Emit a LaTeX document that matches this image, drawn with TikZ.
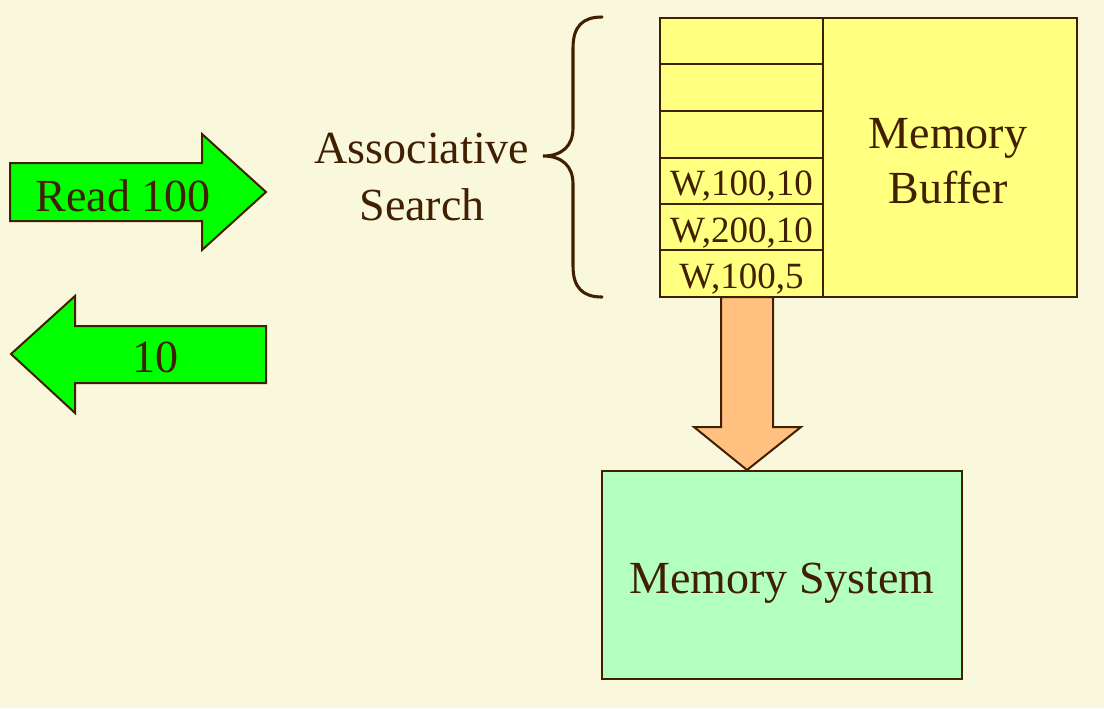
\documentclass[tikz,border=0pt]{standalone}
\usepackage{fontspec}
\setmainfont{Liberation Serif}
\definecolor{bgc}{RGB}{250,248,220}
\definecolor{ink}{RGB}{64,32,0}
\definecolor{grn}{RGB}{0,255,0}
\definecolor{ylw}{RGB}{255,255,128}
\definecolor{org}{RGB}{255,192,128}
\definecolor{lgrn}{RGB}{179,255,192}
\tikzset{
  big/.style={font=\fontsize{34.5}{41}\selectfont, text=ink, inner sep=0pt},
  small/.style={font=\fontsize{27.75}{33}\selectfont, text=ink, inner sep=0pt},
  shp/.style={draw=ink, line width=1.5pt, line join=miter},
  cell/.style={shp, fill=ylw, rectangle, anchor=north west, inner sep=0pt, outer sep=0pt,
    minimum width=163*0.75pt, minimum height=#1*0.75pt},
}
\begin{document}
\begin{tikzpicture}[x=0.75pt,y=-0.75pt]
\fill[bgc] (0,0) rectangle (1104,708);
\useasboundingbox (0,0) rectangle (1104,708);

% green arrows
\draw[shp, fill=grn] (10,163) -- (202,163) -- (202,134) -- (266,192) -- (202,250) -- (202,221) -- (10,221) -- cycle;
\node[big, anchor=base] (read) at (123,211) {Read 100};
\draw[shp, fill=grn] (266,326) -- (75,326) -- (75,296) -- (11,354) -- (75,413) -- (75,383) -- (266,383) -- cycle;
\node[big, anchor=base] (ten) at (155,372) {10};

% associative search
\node[big, anchor=base] (assoc) at (422,163) {Associative};
\node[big, anchor=base] (search) at (422,220) {Search};

% brace
\draw[ink, line width=2.3pt, line cap=round]
  (602,17) .. controls (583,17) and (573,26) .. (573,48) -- (573,128)
  .. controls (573,146) and (562,156) .. (543,156)
  .. controls (562,156) and (573,166) .. (573,184) -- (573,266)
  .. controls (573,288) and (583,297) .. (602,297);

% orange arrow
\draw[shp, fill=org] (721,297) -- (721,427) -- (694,427) -- (747,470) -- (801,427) -- (773,427) -- (773,297) -- cycle;

% memory buffer
\node[cell=46] (c1) at (660,18) {};
\node[cell=47] (c2) at (660,64) {};
\node[cell=47] (c3) at (660,111) {};
\node[cell=46] (c4) at (660,158) {};
\node[cell=46] (c5) at (660,204) {};
\node[cell=47] (c6) at (660,250) {};
\node[small, anchor=base] (t4) at (741.5,195) {W,100,10};
\node[small, anchor=base] (t5) at (741.5,242) {W,200,10};
\node[small, anchor=base] (t6) at (741.5,288) {W,100,5};
\node[shp, fill=ylw, rectangle, anchor=north west, inner sep=0pt, outer sep=0pt,
  minimum width=254*0.75pt, minimum height=279*0.75pt] (buf) at (823,18) {};
\node[big, anchor=base] (mem1) at (948,148) {Memory};
\node[big, anchor=base] (mem2) at (948,203) {Buffer};

% memory system
\node[shp, fill=lgrn, rectangle, anchor=north west, inner sep=0pt, outer sep=0pt,
  minimum width=360*0.75pt, minimum height=208*0.75pt] (sys) at (602,471) {};
\node[big, anchor=base] (systxt) at (782,593) {Memory System};
\end{tikzpicture}
\end{document}
